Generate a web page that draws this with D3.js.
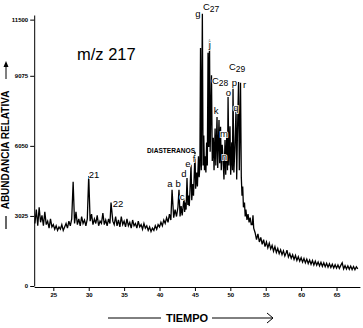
<!DOCTYPE html>
<html><head><meta charset="utf-8">
<script src="https://cdn.jsdelivr.net/npm/d3@7"></script>
<style>html,body{margin:0;padding:0;background:#fff;} svg{display:block;}</style>
</head><body><svg id="c" width="363" height="328"></svg>
<script>
// ---- data ----
const xTicks = [25,30,35,40,45,50,55,60,65];
const yTicks = [0,3025,6050,9075,11500];

// retention time (min), abundance
const traceEarly = [
[22.4,2700],[22.6,3300],[22.8,2600],[23.0,3400],[23.2,2750],[23.4,3050],[23.6,2600],[23.8,3200],[24.0,2650],[24.2,2800],
[24.4,2500],[24.6,2900],[24.8,2550],[25.0,2650],[25.2,2450],[25.4,2600],[25.6,2400],[25.8,2550],[26.0,2450],[26.2,2650],
[26.4,2400],[26.6,2550],[26.8,2700],[27.0,2500],[27.2,2800],[27.4,2600],[27.6,2900],[27.8,4500],[28.0,2700],[28.2,3200],
[28.4,2650],[28.6,2900],[28.8,2600],[29.0,3000],[29.2,2700],[29.4,2850],[29.6,2600],[29.8,2900],[30.0,4750],[30.2,2800],
[30.4,3100],[30.6,2650],[30.8,2900],[31.0,2700],[31.2,3050],[31.4,2600],[31.6,2800],[31.8,2700],[32.0,3150],[32.2,2650],
[32.4,2850],[32.6,2600],[32.8,2900],[33.0,2700],[33.15,3600],[33.4,2800],[33.6,2650],[33.8,3000],[34.0,2600],[34.2,2850],
[34.4,2550],[34.6,3000],[34.8,2650],[35.0,2800],[35.2,2550],[35.4,2900],[35.6,2600],[35.8,2750],[36.0,2500],[36.2,2850],
[36.4,2600],[36.6,2700],[36.8,2500],[37.0,2800],[37.2,2550],[37.4,2650],[37.6,2450],[37.8,2700],[38.0,2500],[38.2,2600],
[38.4,2400],[38.6,2550],[38.8,2350],[39.0,2500],[39.2,2400],[39.4,2600],[39.6,2450],[39.8,2650],[40.0,2550],[40.2,2750],
[40.4,2600],[40.6,2850],[40.8,2700],[41.0,2950],[41.2,2750],[41.4,3100],[41.6,2850]
];
const traceSteranes = [
[41.77,4150],[42.0,2950],[42.2,3300],[42.4,3000],[42.6,3400],[42.75,4150],[42.9,3000],[43.05,3450],[43.2,3050],[43.46,3800],
[43.55,3200],[43.65,3600],[43.75,3300],[43.88,4665],[44.0,3500],[44.1,3900],[44.2,3450],[44.3,4100],[44.45,5230],[44.55,3700],
[44.7,4400],[44.8,3900],[45.01,5790],[45.1,4200],[45.25,4900],[45.35,4300],[45.5,5600],[45.6,4700],[45.7,5200],[45.79,10280],
[45.9,5000],[46.05,11750],[46.15,5200],[46.25,6500],[46.35,5000],[46.45,5600],[46.55,4900],[46.65,6200],[46.75,5200],[46.85,10065],
[46.95,6000],[47.06,10630],[47.15,5800],[47.34,9100],[47.45,5400],[47.6,6400],[47.7,5000],[47.85,6800],[47.95,5200],[48.12,7300],
[48.22,5100],[48.4,7170],[48.5,5300],[48.62,6870],[48.72,5000],[48.85,6100],[48.97,5500],[49.1,4600],[49.25,6300],[49.35,4800],
[49.5,6600],[49.6,5000],[49.68,8165],[49.8,5200],[49.95,6900],[50.05,4800],[50.2,6200],[50.3,5000],[50.38,8550],[50.5,4900],
[50.65,6000],[50.81,7690],[50.9,4600],[51.0,6500],[51.16,8810],[51.27,5000],[51.44,8770],[51.55,4700],[51.65,3900],[51.75,4300],
[51.85,3400]
];
const traceLate = [
[52.0,3600],[52.1,3000],[52.2,3300],[52.35,2850],[52.5,3100],[52.65,2750],[52.8,2950],[52.95,2650],[53.1,2650],[53.2,3050],
[53.3,2500],[53.5,2300],[53.7,2000],[53.9,2250],[54.1,1900],[54.3,2100],[54.5,1800],[54.7,2000],[54.9,1700],[55.1,1900],
[55.3,1650],[55.5,1850],[55.7,1600],[55.9,1750],[56.1,1500],[56.3,1700],[56.5,1450],[56.7,1620],[56.9,1400],[57.1,1560],
[57.3,1350],[57.5,1520],[57.7,1300],[57.9,1450],[58.0,1550],[58.2,1250],[58.4,1400],[58.6,1200],[58.8,1350],[59.0,1150],
[59.2,1320],[59.4,1100],[59.6,1260],[59.8,1070],[60.0,1220],[60.2,1030],[60.4,1190],[60.6,1000],[60.8,1160],[61.0,970],
[61.2,1120],[61.4,940],[61.6,1100],[61.8,910],[62.0,1070],[62.2,900],[62.4,1040],[62.6,870],[62.8,1020],[63.0,850],
[63.2,1000],[63.4,830],[63.6,980],[63.8,810],[64.0,960],[64.2,800],[64.4,940],[64.6,780],[64.8,920],[65.0,770],
[65.2,910],[65.4,760],[65.6,890],[65.8,1000],[66.0,740],[66.2,880],[66.4,730],[66.6,870],[66.8,720],[67.0,860],
[67.2,710],[67.4,840],[67.6,700],[67.8,830],[68.0,740]
];

// [text, time, abundance] (text anchor: middle)
const peakLabels = [
["21",30.75,4663],["22",34.14,3411],["a",41.48,4275],["b",42.64,4275],["c",43.18,3713],
["d",43.46,4707],["e",44.02,5138],["f",44.87,5354],["g",45.43,11615],["j",47.12,10277],
["k",47.98,7427],["m",49.11,6434],["n",49.18,5441],["o",49.74,8204],["p",50.59,8636],
["q",50.80,7556],["r",52.0,8550]
];
// [main, subscript, time, abundance] (text anchor: start)
const carbonLabels = [["C","27",46.14,11917],["C","28",47.41,8722],["C","29",49.81,9327]];
const groupLabel = ["DIASTERANOS",38.24,5743];
const ionLabel = ["m/z 217",28.35,9759];
const yTitle = "ABUNDANCIA RELATIVA";
const xTitle = "TIEMPO";

// ---- drawing ----
const svg = d3.select("#c");
const FONT = "'Liberation Sans', Arial, Helvetica, sans-serif";
const x = d3.scaleLinear().domain([22.3,68.3]).range([34.2,359.9]);
const y = d3.scaleLinear().domain([0,11700]).range([286,15]);

const line = d3.line().x(d=>x(d[0])).y(d=>y(d[1]));
svg.append("path")
  .datum(traceEarly.concat(traceSteranes, traceLate))
  .attr("d", line).attr("fill","none").attr("stroke","#000")
  .attr("stroke-width",1.3).attr("stroke-linejoin","miter");

// axes
const xAxis = svg.append("g").attr("transform","translate(0,287)")
  .call(d3.axisBottom(x).tickValues(xTicks).tickSize(4).tickSizeOuter(0).tickPadding(2).tickFormat(d3.format("d")));
const yAxis = svg.append("g").attr("transform","translate(34.2,0)")
  .call(d3.axisLeft(y).tickValues(yTicks).tickSize(4).tickSizeOuter(0).tickPadding(2).tickFormat(d3.format("d")));
[xAxis,yAxis].forEach(g=>{
  g.selectAll("path,line").attr("stroke","#000").attr("stroke-width",1);
  g.selectAll("text").attr("font-family",FONT).attr("font-size",6).attr("font-weight","bold").attr("fill","#000");
});

// peak labels (white halo like the printed labels over the trace)
svg.append("g").selectAll("text").data(peakLabels).join("text")
  .attr("x",d=>x(d[1])).attr("y",d=>y(d[2])).attr("text-anchor","middle")
  .attr("font-family",FONT).attr("font-size",9.5)
  .attr("stroke","#fff").attr("stroke-width",1.6).attr("paint-order","stroke").attr("fill","#000")
  .text(d=>d[0]);

const cl = svg.append("g").selectAll("text").data(carbonLabels).join("text")
  .attr("x",d=>x(d[2])).attr("y",d=>y(d[3]))
  .attr("font-family",FONT).attr("font-size",9.5)
  .attr("stroke","#fff").attr("stroke-width",1.4).attr("paint-order","stroke");
cl.append("tspan").text(d=>d[0]);
cl.append("tspan").attr("dy",2.5).attr("font-size",8.5).text(d=>d[1]);

svg.append("text").attr("x",x(groupLabel[1])).attr("y",y(groupLabel[2]))
  .attr("font-family",FONT).attr("font-size",6.6).attr("font-weight","bold").text(groupLabel[0]);

svg.append("text").attr("x",x(ionLabel[1])).attr("y",y(ionLabel[2]))
  .attr("font-family",FONT).attr("font-size",16.5).text(ionLabel[0]);

// axis titles
svg.append("text").attr("transform","translate(8.5,150) rotate(-90)")
  .attr("text-anchor","middle").attr("font-family",FONT).attr("font-size",10).attr("font-weight","bold")
  .text(yTitle);
svg.append("line").attr("x1",6).attr("x2",6).attr("y1",79).attr("y2",63).attr("stroke","#000").attr("stroke-width",1);
svg.append("path").attr("d","M3.5,67 L6,61 L8.5,67 Z").attr("fill","#000");
svg.append("line").attr("x1",6).attr("x2",6).attr("y1",216).attr("y2",229).attr("stroke","#000").attr("stroke-width",1.2);

svg.append("text").attr("x",187).attr("y",322).attr("text-anchor","middle")
  .attr("font-family",FONT).attr("font-size",11).attr("font-weight","bold").text(xTitle);
svg.append("line").attr("x1",108).attr("x2",161).attr("y1",318).attr("y2",318).attr("stroke","#000");
svg.append("line").attr("x1",212).attr("x2",273).attr("y1",318).attr("y2",318).attr("stroke","#000");
svg.append("path").attr("d","M267,313 L273,318 L267,323").attr("fill","none").attr("stroke","#000");
</script></body></html>
